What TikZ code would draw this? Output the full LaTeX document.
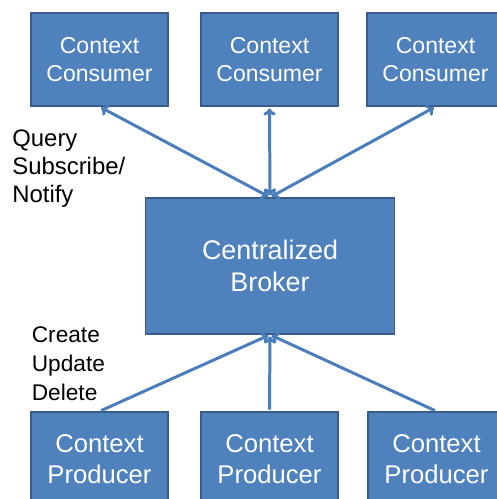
\documentclass[tikz,border=0pt]{standalone}
\usepackage{fontspec}
\setmainfont{Liberation Sans}
\usetikzlibrary{arrows.meta}
\definecolor{boxblue}{RGB}{79,129,189}
\definecolor{boxedge}{RGB}{56,93,138}
\definecolor{lineblue}{RGB}{74,126,187}

\begin{document}
\begin{tikzpicture}
    \tikzset{
      ctxbox/.style={
        rectangle,
        minimum width=2.74cm,
        minimum height=1.86cm,
        inner sep=0mm,
        fill=boxblue,
        draw=boxedge,
        line width=0.8pt,
        text=white,
        align=center
      },
      flow/.style={
        draw=lineblue,
        line width=1.7pt,
        shorten <=1pt,
        shorten >=1pt
      },
      opname/.style={
        inner sep=0mm,
        align=left,
        anchor=west
      }
    }

    \useasboundingbox (0,0) rectangle (9.94,-9.98);
    \clip (0,0) rectangle (9.94,-9.98);

    %Broker node
    \node[ctxbox,minimum width=4.98cm,minimum height=2.72cm,
      font=\fontsize{15.3}{18.1}\selectfont] at (5.40,-5.32) (broker)
      {Centralized\\Broker};

    %Top left node
    \node[ctxbox,font=\fontsize{13.1}{15.9}\selectfont] at (1.99,-1.19) (cons1)
      {Context\\Consumer};
    %Top node
    \node[ctxbox,font=\fontsize{13.1}{15.9}\selectfont] at (5.39,-1.19) (cons2)
      {Context\\Consumer};
    %Top right node
    \node[ctxbox,font=\fontsize{13.1}{15.9}\selectfont] at (8.71,-1.19) (cons3)
      {Context\\Consumer};

    %Bottom left node
    \node[ctxbox,minimum height=1.88cm,font=\fontsize{14.6}{17.6}\selectfont]
      at (1.99,-9.18) (prod1) {Context\\Producer};
    %Bottom node
    \node[ctxbox,minimum height=1.88cm,font=\fontsize{14.6}{17.6}\selectfont]
      at (5.39,-9.18) (prod2) {Context\\Producer};
    %Bottom right node
    \node[ctxbox,minimum height=1.88cm,font=\fontsize{14.6}{17.6}\selectfont]
      at (8.73,-9.18) (prod3) {Context\\Producer};

    %Consumer links
    \draw[flow,{To[length=4pt,width=7pt]}-{To[length=4pt,width=7pt]}]
      (cons1.south) -- (broker.north);
    \draw[flow,{To[length=4pt,width=7pt]}-{To[length=4pt,width=7pt]}]
      (cons2.south) -- (broker.north);
    \draw[flow,{To[length=4pt,width=7pt]}-{To[length=4pt,width=7pt]}]
      (cons3.south) -- (broker.north);

    %Producer links
    \draw[flow,-{To[length=4pt,width=7pt]}] (prod1.north) -- (broker.south);
    \draw[flow,-{To[length=4pt,width=7pt]}] (prod2.north) -- (broker.south);
    \draw[flow,-{To[length=4pt,width=7pt]}] (prod3.north) -- (broker.south);

    %Operation labels
    \node[opname,font=\fontsize{13.6}{15.9}\selectfont] at (0.24,-3.38) (query)
      {Query\\Subscribe/\\Notify};
    \node[opname,font=\fontsize{12.9}{16.5}\selectfont] at (0.63,-7.28) (create)
      {Create\\Update\\Delete};
  \end{tikzpicture}
\end{document}
